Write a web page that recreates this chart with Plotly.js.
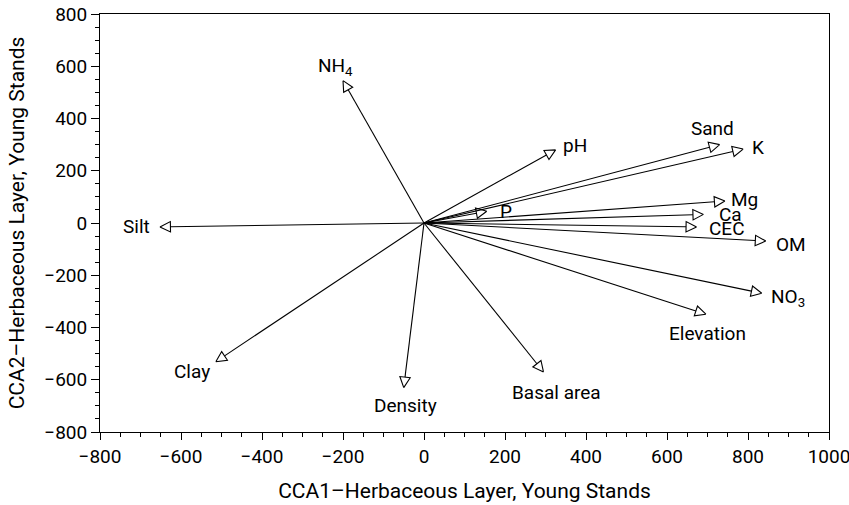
<!DOCTYPE html>
<html><head><meta charset="utf-8">
<script src="https://cdn.plot.ly/plotly-3.0.1.min.js"></script>
<style>body{margin:0;background:#fff}</style>
</head><body><div id="chart" style="width:849px;height:505px"></div>
<script>
// Data
const variables = ['NH<sub>4</sub>', 'pH', 'P', 'Sand', 'K', 'Mg', 'Ca', 'CEC', 'OM', 'NO<sub>3</sub>', 'Elevation', 'Basal area', 'Density', 'Clay', 'Silt'];
const cca1 = [-200, 325, 155, 730, 788, 743, 690, 673, 844, 834, 696, 295, -50, -514, -652];
const cca2 = [545, 280, 45, 300, 283, 84, 33, -15, -69, -269, -349, -570, -630, -531, -15];
const xTickVals = [-800, -600, -400, -200, 0, 200, 400, 600, 800, 1000];
const yTickVals = [-800, -600, -400, -200, 0, 200, 400, 600, 800];

// Label placement (layout only): [xanchor, xshift, yshift]
const labelPlacement = [
  ['center', -8, 14], ['left', 5, 4], ['left', 11, 0], ['center', -7, 16], ['left', 7, 1.5],
  ['left', 4, 2], ['left', 14, 0], ['left', 10, -2], ['left', 8.5, -3], ['left', 7.5, -4],
  ['center', 2, -19], ['center', 13, -21], ['center', 2, -18], ['right', -4, -10], ['right', -8, 0]
];

const FONT = 'Roboto, "Open Sans", sans-serif';
const W = 849, H = 505;
const margin = {l: 100, r: 20, t: 14, b: 72.5};
const xRange = [-800, 1000];
const yRange = [-800, 800];

// axis scale (px per data unit) derived from the layout, for sizing arrowheads in pixels
const kx = (W - margin.l - margin.r) / (xRange[1] - xRange[0]);
const ky = (H - margin.t - margin.b) / (yRange[1] - yRange[0]);
const headLen = 10.5, headHalf = 5.2;

const shaftX = [], shaftY = [], headX = [], headY = [];
variables.forEach((v, i) => {
  const X = cca1[i], Y = cca2[i];
  const px = X * kx, py = Y * ky;
  const len = Math.hypot(px, py);
  const ux = px / len, uy = py / len;
  const bx = px - headLen * ux, by = py - headLen * uy;  // base centre in px
  const nx = -uy, ny = ux;
  shaftX.push(0, bx / kx, null); shaftY.push(0, by / ky, null);
  headX.push(X, (bx + headHalf * nx) / kx, (bx - headHalf * nx) / kx, X, null);
  headY.push(Y, (by + headHalf * ny) / ky, (by - headHalf * ny) / ky, Y, null);
});

const traces = [
  {type: 'scatter', mode: 'lines', x: shaftX, y: shaftY, line: {color: '#000', width: 1.1},
   hoverinfo: 'skip', showlegend: false, connectgaps: false},
  {type: 'scatter', mode: 'lines', x: headX, y: headY, line: {color: '#000', width: 1.1},
   hoverinfo: 'skip', showlegend: false, connectgaps: false}
];

const annotations = variables.map((v, i) => ({
  x: cca1[i], y: cca2[i], xref: 'x', yref: 'y',
  text: v, showarrow: false,
  xanchor: labelPlacement[i][0], yanchor: 'middle',
  xshift: labelPlacement[i][1], yshift: labelPlacement[i][2],
  font: {family: FONT, size: 19, color: '#000'}
}));

const axisCommon = {
  showgrid: false, zeroline: false,
  showline: true, linecolor: '#000', linewidth: 1, mirror: true,
  ticks: 'outside', tickcolor: '#000', tickwidth: 1,
  tickfont: {family: FONT, size: 19, color: '#000'},
  ticklabeloverflow: 'allow',
  automargin: false
};

const layout = {
  width: W, height: H,
  margin: margin,
  paper_bgcolor: '#fff', plot_bgcolor: '#fff',
  xaxis: Object.assign({}, axisCommon, {
    range: xRange, tickvals: xTickVals, ticklen: 7,
    minor: {dtick: 50, tick0: 0, ticks: 'outside', ticklen: 4, tickcolor: '#000', tickwidth: 1, showgrid: false},
    title: {text: 'CCA1–Herbaceous Layer, Young Stands', font: {family: FONT, size: 21, color: '#000'}, standoff: 16}
  }),
  yaxis: Object.assign({}, axisCommon, {
    range: yRange, tickvals: yTickVals, ticklen: 8,
    minor: {dtick: 50, tick0: 0, ticks: 'outside', ticklen: 4, tickcolor: '#000', tickwidth: 1, showgrid: false},
    title: {text: 'CCA2–Herbaceous Layer, Young Stands', font: {family: FONT, size: 21, color: '#000'}, standoff: 13.5}
  }),
  annotations: annotations
};

Plotly.newPlot('chart', traces, layout, {displayModeBar: false, staticPlot: true});
</script>
</body></html>
